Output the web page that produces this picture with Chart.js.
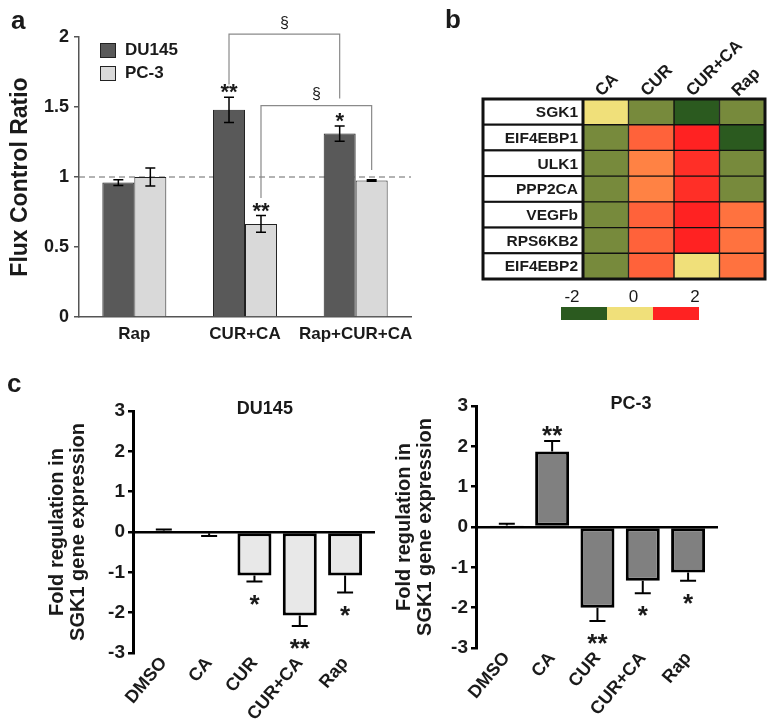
<!DOCTYPE html>
<html>
<head>
<meta charset="utf-8">
<script src="https://cdn.jsdelivr.net/npm/chart.js@4.4.1/dist/chart.umd.min.js"></script>
<style>
  body { margin: 0; background: #fff; }
  #wrap { position: relative; width: 773px; height: 719px; }
  canvas { position: absolute; }
</style>
</head>
<body>
<div id="wrap">
  <canvas id="flux" width="440" height="350" style="left:0;top:0"></canvas>
  <canvas id="heat" width="333" height="340" style="left:440px;top:0"></canvas>
  <canvas id="du145" width="390" height="349" style="left:0;top:370px"></canvas>
  <canvas id="pc3" width="383" height="349" style="left:390px;top:370px"></canvas>
</div>
<script>
// ---- panel a: flux control ratio ----
const fluxLabels = ['Rap', 'CUR+CA', 'Rap+CUR+CA'];
const fluxDU145 = [0.96, 1.48, 1.31];
const fluxDU145Err = [0.02, 0.09, 0.055];
const fluxPC3 = [1.0, 0.665, 0.975];
const fluxPC3Err = [0.065, 0.06, 0.006];
const fluxDU145Stars = ['', '**', '*'];
const fluxPC3Stars = ['', '**', ''];
const fluxReference = 1;

// § comparisons: series index, from/to category, bracket heights
const bracketSeries = [0, 1];
const bracketFrom = [1, 1];
const bracketTo = [2, 2];
const bracketTop = [2.02, 1.51];
const bracketLeftEnd = [1.66, 0.85];
const bracketRightEnd = [1.56, 1.05];
const bracketMark = ['§', '§'];

// ---- panel b: heat map ----
const genes = ['SGK1', 'EIF4EBP1', 'ULK1', 'PPP2CA', 'VEGFb', 'RPS6KB2', 'EIF4EBP2'];
const treatments = ['CA', 'CUR', 'CUR+CA', 'Rap'];
const heatCA = [0, -1, -1, -1, -1, -1, -1];
const heatCUR = [-1, 1.5, 1, 1, 1.5, 1.5, 1.5];
const heatCURCA = [-2, 2, 1.9, 1.9, 2, 2, 0];
const heatRap = [-1, -2, -1, -1, 1.25, 1.25, 1.25];
const heatScaleTicks = [-2, 0, 2];

// ---- panel c: SGK1 fold regulation ----
const foldCats = ['DMSO', 'CA', 'CUR', 'CUR+CA', 'Rap'];
const foldDU145 = [0.03, -0.03, -1.08, -2.07, -1.08];
const foldDU145Err = [0.03, 0.07, 0.15, 0.26, 0.42];
const foldDU145Stars = ['', '', '*', '**', '*'];
const foldPC3 = [0.04, 1.87, -2.0, -1.33, -1.13];
const foldPC3Err = [0.04, 0.26, 0.33, 0.31, 0.2];
const foldPC3Stars = ['', '**', '**', '*', '*'];

const FONT = '"Liberation Sans", Arial, sans-serif';
const INK = '#1a1a1a';
Chart.defaults.font.family = FONT;
Chart.defaults.color = INK;

const panelLetter = {
  id: 'panelLetter',
  afterDraw(chart, args, opts) {
    if (!opts.text) return;
    const { ctx } = chart;
    ctx.save();
    ctx.font = `bold 26px ${FONT}`;
    ctx.fillStyle = INK;
    ctx.textBaseline = 'alphabetic';
    ctx.fillText(opts.text, opts.x, opts.y);
    ctx.restore();
  },
};

// ---------- panel a ----------
const fluxExtras = {
  id: 'fluxExtras',
  beforeDatasetsDraw(chart) {
    const { ctx, chartArea: a, scales: { y } } = chart;
    const py = y.getPixelForValue(fluxReference);
    ctx.save();
    ctx.strokeStyle = '#666';
    ctx.lineWidth = 1;
    ctx.setLineDash([6, 4]);
    ctx.beginPath();
    ctx.moveTo(a.left, py);
    ctx.lineTo(a.right, py);
    ctx.stroke();
    ctx.restore();
  },
  afterDatasetsDraw(chart) {
    const { ctx, chartArea: a, scales: { y } } = chart;
    ctx.save();
    // error bars + stars
    chart.data.datasets.forEach((ds, di) => {
      const meta = chart.getDatasetMeta(di);
      meta.data.forEach((bar, i) => {
        const v = ds.data[i];
        const e = ds.errors[i];
        const top = y.getPixelForValue(v + e);
        const bot = y.getPixelForValue(v - e);
        ctx.strokeStyle = '#000';
        ctx.lineWidth = 1.5;
        ctx.beginPath();
        ctx.moveTo(bar.x, top); ctx.lineTo(bar.x, bot);
        ctx.moveTo(bar.x - 5, top); ctx.lineTo(bar.x + 5, top);
        ctx.moveTo(bar.x - 5, bot); ctx.lineTo(bar.x + 5, bot);
        ctx.stroke();
        if (ds.stars[i]) {
          ctx.font = `bold 22px ${FONT}`;
          ctx.fillStyle = INK;
          ctx.textAlign = 'center';
          ctx.textBaseline = 'alphabetic';
          ctx.fillText(ds.stars[i], bar.x, top - 10 + 12);
        }
      });
    });
    // brackets
    ctx.strokeStyle = '#8a8a8a';
    ctx.lineWidth = 1.2;
    bracketSeries.forEach((s, k) => {
      const meta = chart.getDatasetMeta(s);
      const x1 = meta.data[bracketFrom[k]].x;
      const x2 = meta.data[bracketTo[k]].x;
      const yt = y.getPixelForValue(bracketTop[k]);
      ctx.beginPath();
      ctx.moveTo(x1, y.getPixelForValue(bracketLeftEnd[k]));
      ctx.lineTo(x1, yt);
      ctx.lineTo(x2, yt);
      ctx.lineTo(x2, y.getPixelForValue(bracketRightEnd[k]));
      ctx.stroke();
      ctx.font = `16px ${FONT}`;
      ctx.fillStyle = INK;
      ctx.textAlign = 'center';
      ctx.textBaseline = 'middle';
      ctx.fillText(bracketMark[k], (x1 + x2) / 2, yt - 11);
    });
    // legend
    chart.data.datasets.forEach((ds, di) => {
      const bx = a.left + 21;
      const by = a.top + 6 + di * 23;
      ctx.fillStyle = ds.backgroundColor;
      ctx.fillRect(bx, by, 15, 14);
      ctx.strokeStyle = '#222';
      ctx.lineWidth = 1;
      ctx.strokeRect(bx + 0.5, by + 0.5, 15, 14);
      ctx.font = `bold 17px ${FONT}`;
      ctx.fillStyle = INK;
      ctx.textAlign = 'left';
      ctx.textBaseline = 'middle';
      ctx.fillText(ds.label, bx + 25, by + 7);
    });
    ctx.restore();
  },
};

new Chart(document.getElementById('flux'), {
  type: 'bar',
  data: {
    labels: fluxLabels,
    datasets: [
      { label: 'DU145', data: fluxDU145, errors: fluxDU145Err, stars: fluxDU145Stars,
        backgroundColor: '#595959', borderColor: '#222', borderWidth: 1 },
      { label: 'PC-3', data: fluxPC3, errors: fluxPC3Err, stars: fluxPC3Stars,
        backgroundColor: '#d9d9d9', borderColor: '#222', borderWidth: 1 },
    ],
  },
  options: {
    responsive: false,
    animation: false,
    layout: { padding: { top: 37, right: 29, left: 0, bottom: 0 } },
    datasets: { bar: { categoryPercentage: 0.578, barPercentage: 1 } },
    plugins: {
      legend: { display: false },
      tooltip: { enabled: false },
      panelLetter: { text: 'a', x: 11, y: 29 },
    },
    scales: {
      x: {
        grid: { display: false, drawTicks: false },
        border: { color: '#555', width: 1.5 },
        ticks: { padding: 7, minRotation: 0, maxRotation: 0, autoSkip: false,
          color: INK, font: { size: 17, weight: 'bold' } },
        afterFit: (s) => { s.height = 33; s.paddingLeft = 0; s.paddingRight = 0; },
      },
      y: {
        min: 0,
        max: 2,
        ticks: { stepSize: 0.5, padding: 5, color: INK, font: { size: 18, weight: 'bold' },
          callback: (v) => String(v) },
        grid: { drawOnChartArea: false, tickLength: 5, color: '#555', lineWidth: 1.5 },
        border: { color: '#555', width: 1.5 },
        title: {
          display: true,
          text: 'Flux Control Ratio',
          color: INK,
          font: { size: 23, weight: 'bold', lineHeight: 1.1 },
          padding: { top: 8, bottom: 0 },
        },
        afterFit: (s) => { s.width = 79; },
      },
    },
  },
  plugins: [fluxExtras, panelLetter],
});

// ---------- panel b ----------
const heatStops = [
  [-2, [43, 90, 31]],
  [-1, [119, 138, 60]],
  [0, [240, 224, 122]],
  [1, [255, 130, 68]],
  [1.5, [255, 98, 58]],
  [2, [255, 34, 34]],
];
const heatColor = (v) => {
  for (let k = 1; k < heatStops.length; k++) {
    const [v1, c1] = heatStops[k];
    const [v0, c0] = heatStops[k - 1];
    if (v <= v1) {
      const t = Math.max(0, (v - v0) / (v1 - v0));
      const c = c0.map((ch, j) => Math.round(ch + (c1[j] - ch) * t));
      return `rgb(${c[0]},${c[1]},${c[2]})`;
    }
  }
  const c = heatStops[heatStops.length - 1][1];
  return `rgb(${c[0]},${c[1]},${c[2]})`;
};
const heatValues = [heatCA, heatCUR, heatCURCA, heatRap];

const heatFrame = {
  id: 'heatFrame',
  afterDatasetsDraw(chart) {
    const { ctx, chartArea: a, scales: { y } } = chart;
    const rowH = (a.bottom - a.top) / genes.length;
    const labelW = 100;
    ctx.save();
    ctx.strokeStyle = '#111';
    genes.forEach((g, i) => {
      const yc = y.getPixelForValue(i);
      ctx.fillStyle = '#fff';
      ctx.fillRect(a.left - labelW, yc - rowH / 2, labelW, rowH);
      ctx.lineWidth = 2;
      ctx.strokeRect(a.left - labelW, yc - rowH / 2, labelW, rowH);
      ctx.font = `bold 15.5px ${FONT}`;
      ctx.fillStyle = INK;
      ctx.textAlign = 'right';
      ctx.textBaseline = 'middle';
      ctx.fillText(g, a.left - 5, yc + 1);
    });
    ctx.lineWidth = 3;
    ctx.strokeRect(a.left - labelW, a.top, a.right - a.left + labelW, a.bottom - a.top);
    ctx.beginPath();
    ctx.moveTo(a.left, a.top);
    ctx.lineTo(a.left, a.bottom);
    ctx.stroke();

    // colour key
    const cbLeft = a.left - 22;
    const cbTop = a.bottom + 28;
    const segW = 46;
    heatScaleTicks.forEach((v, k) => {
      ctx.fillStyle = heatColor(v);
      ctx.fillRect(cbLeft + k * segW, cbTop, segW, 13);
    });
    ctx.font = `17px ${FONT}`;
    ctx.fillStyle = INK;
    ctx.textAlign = 'center';
    ctx.textBaseline = 'middle';
    heatScaleTicks.forEach((v) => {
      ctx.fillText(String(v), cbLeft + 11 + (v + 2) * 30.75, a.bottom + 18);
    });
    ctx.restore();
  },
};

new Chart(document.getElementById('heat'), {
  type: 'bar',
  data: {
    labels: genes,
    datasets: treatments.map((t, j) => ({
      label: t,
      data: genes.map(() => 1),
      backgroundColor: heatValues[j].map(heatColor),
      borderColor: '#111',
      borderWidth: 1,
      borderSkipped: false,
      categoryPercentage: 1,
      barPercentage: 1,
    })),
  },
  options: {
    indexAxis: 'y',
    responsive: false,
    animation: false,
    layout: { padding: { left: 143, right: 8, top: 0, bottom: 61 } },
    plugins: {
      legend: { display: false },
      tooltip: { enabled: false },
      panelLetter: { text: 'b', x: 5, y: 28 },
    },
    scales: {
      x: { stacked: true, min: 0, max: 4, display: false },
      y: { stacked: true, display: false },
      x2: {
        type: 'category',
        labels: treatments,
        position: 'top',
        offset: true,
        grid: { display: false, drawTicks: false },
        border: { display: false },
        ticks: {
          minRotation: 45,
          maxRotation: 45,
          padding: -2,
          labelOffset: 7,
          color: INK,
          font: { size: 17, weight: 'bold' },
        },
        afterFit: (s) => { s.height = 99; s.paddingLeft = 0; s.paddingRight = 0; },
      },
    },
  },
  plugins: [heatFrame, panelLetter],
});

// ---------- panel c ----------
const foldExtras = {
  id: 'foldExtras',
  afterDatasetsDraw(chart, args, opts) {
    const { ctx, chartArea: a, scales: { x, y } } = chart;
    const ds = chart.data.datasets[0];
    const meta = chart.getDatasetMeta(0);
    ctx.save();
    meta.data.forEach((bar, i) => {
      const v = ds.data[i].y;
      const e = ds.errors[i];
      const end = v >= 0 ? v + e : v - e;
      const py0 = y.getPixelForValue(v);
      const py1 = y.getPixelForValue(end);
      ctx.strokeStyle = '#000';
      ctx.lineWidth = 2;
      ctx.beginPath();
      ctx.moveTo(bar.x, py0); ctx.lineTo(bar.x, py1);
      ctx.moveTo(bar.x - 8, py1); ctx.lineTo(bar.x + 8, py1);
      ctx.stroke();
      if (ds.stars[i]) {
        ctx.font = `bold 26px ${FONT}`;
        ctx.fillStyle = INK;
        ctx.textAlign = 'center';
        ctx.textBaseline = 'alphabetic';
        const cy = v >= 0 ? py1 - 11 : py1 + 17;
        ctx.fillText(ds.stars[i], bar.x, cy + 14);
      }
    });
    ctx.font = `bold 18px ${FONT}`;
    ctx.fillStyle = INK;
    ctx.textAlign = 'center';
    ctx.textBaseline = 'middle';
    ctx.fillText(opts.title, x.getPixelForValue(opts.titleAt), a.top - 2);
    ctx.restore();
  },
};

const makeFoldChart = (id, values, errors, stars, fill, cfg) => new Chart(document.getElementById(id), {
  type: 'bar',
  data: {
    datasets: [{
      data: values.map((v, i) => ({ x: i, y: v })),
      errors,
      stars,
      backgroundColor: fill,
      borderColor: '#000',
      borderWidth: 3,
      borderSkipped: false,
      categoryPercentage: 1,
      barPercentage: 0.75,
    }],
  },
  options: {
    responsive: false,
    animation: false,
    layout: { padding: { top: cfg.top, right: cfg.right, left: 0, bottom: 0 } },
    plugins: {
      legend: { display: false },
      tooltip: { enabled: false },
      foldExtras: { title: cfg.title, titleAt: cfg.titleAt },
      panelLetter: { text: cfg.letter, x: 7, y: 22 },
    },
    scales: {
      x: {
        type: 'linear',
        offset: false,
        min: -0.68,
        max: 4.66,
        grid: { display: false, drawTicks: false, offset: false },
        border: { display: false },
        afterBuildTicks: (s) => { s.ticks = foldCats.map((c, i) => ({ value: i })); },
        ticks: {
          autoSkip: false,
          minRotation: 50,
          maxRotation: 50,
          padding: 0,
          labelOffset: 0,
          color: INK,
          font: { size: 18, weight: 'bold' },
          callback: (v) => foldCats[v] ?? '',
        },
        afterFit: (s) => { s.height = cfg.xHeight; s.paddingLeft = 0; s.paddingRight = 0; },
      },
      y: {
        min: -3,
        max: 3,
        ticks: { stepSize: 1, padding: 3, color: INK, font: { size: 19, weight: 'bold' } },
        grid: {
          drawOnChartArea: true,
          color: (c) => (c.tick && c.tick.value === 0 ? '#000' : 'rgba(0,0,0,0)'),
          tickColor: '#000',
          tickLength: 5,
          lineWidth: 2.5,
        },
        border: { color: '#000', width: 3 },
        title: {
          display: true,
          text: ['Fold regulation in', 'SGK1 gene expression'],
          color: INK,
          font: { size: 20, weight: 'bold', lineHeight: 1.05 },
          padding: { top: cfg.titlePad, bottom: 0 },
        },
        afterFit: (s) => { s.width = cfg.yWidth; },
      },
    },
  },
  plugins: [foldExtras, panelLetter],
});

makeFoldChart('du145', foldDU145, foldDU145Err, foldDU145Stars, '#e8e8e8',
  { top: 41, right: 15, xHeight: 66, yWidth: 133, titlePad: 47, title: 'DU145', titleAt: 2.23, letter: 'c' });
makeFoldChart('pc3', foldPC3, foldPC3Err, foldPC3Stars, '#808080',
  { top: 36, right: 55, xHeight: 71, yWidth: 86, titlePad: 4, title: 'PC-3', titleAt: 2.74, letter: '' });
</script>
</body>
</html>
